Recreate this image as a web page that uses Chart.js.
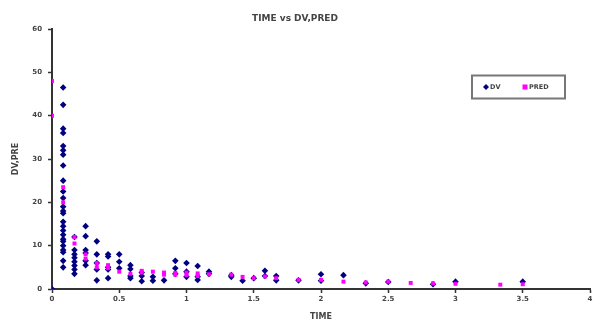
<!DOCTYPE html>
<html>
<head>
<meta charset="utf-8">
<script src="https://cdn.jsdelivr.net/npm/chart.js@4/dist/chart.umd.min.js"></script>
<style>
  html, body { margin: 0; padding: 0; background: #fff; }
  #wrap { width: 595px; height: 322px; position: relative; }
</style>
</head>
<body>
<div id="wrap"><canvas id="c" width="595" height="322"></canvas></div>
<script>
const chartTitle = "TIME vs DV,PRED";
const xTitle = "TIME";
const yTitle = "DV,PRE";
const seriesNames = ["DV", "PRED"];
const xTicks = [0, 0.5, 1, 1.5, 2, 2.5, 3, 3.5, 4];
const yTicks = [0, 10, 20, 30, 40, 50, 60];

const dvTime = [
  0,
  0.083,0.083,0.083,0.083,0.083,0.083,0.083,0.083,0.083,0.083,0.083,0.083,0.083,0.083,0.083,0.083,0.083,0.083,0.083,0.083,0.083,0.083,0.083,0.083,0.083,
  0.167,0.167,0.167,0.167,0.167,0.167,0.167,0.167,
  0.25,0.25,0.25,0.25,0.25,0.25,
  0.333,0.333,0.333,0.333,0.333,
  0.417,0.417,0.417,0.417,0.417,
  0.5,0.5,0.5,
  0.583,0.583,0.583,0.583,
  0.667,0.667,0.667,
  0.75,0.75,
  0.833,
  0.917,0.917,0.917,
  1.0,1.0,1.0,
  1.083,1.083,1.083,
  1.167,1.167,
  1.333,1.333,
  1.417,
  1.5,
  1.583,1.583,
  1.667,1.667,
  1.833,
  2.0,2.0,
  2.167,
  2.333,
  2.5,
  2.833,
  3.0,
  3.5
];
const dvValue = [
  0,
  46.5,42.5,37,36,33,32,31,28.5,25,22.5,21,19,18,17.5,15.5,14.5,13.5,12.5,11.5,11,10,9,8.5,6.5,5,
  12,9,8,7.2,6.3,5.4,4.5,3.5,
  14.5,12.2,9,8.3,6.5,5.5,
  11,8,6,4.5,2,
  8,7.5,5,4.5,2.5,
  8,6.3,4.8,
  5.5,4.6,3,2.5,
  3.8,3,1.8,
  2.8,1.9,
  2,
  6.5,4.8,3.5,
  6,4,2.8,
  5.3,2.8,2.1,
  4,3.5,
  3.2,2.8,
  1.9,
  2.5,
  4.2,3,
  3,2,
  2,
  3.4,1.9,
  3.2,
  1.3,
  1.6,
  1.1,
  1.7,
  1.7
];
const predTime = [
  0,0,
  0.083,0.083,
  0.167,0.167,
  0.25,0.25,
  0.333,0.333,
  0.417,0.417,
  0.5,
  0.583,
  0.667,0.667,
  0.75,
  0.833,0.833,
  0.917,0.917,
  1.0,1.0,
  1.083,1.083,
  1.167,
  1.333,
  1.417,
  1.5,
  1.583,
  1.667,
  1.833,
  2.0,
  2.167,
  2.333,
  2.5,
  2.667,
  2.833,
  3.0,
  3.333,
  3.5
];
const predValue = [
  48,40,
  23.5,20,
  12,10.5,
  8,7,
  6,5,
  5.5,4.8,
  4,
  3.5,
  4.2,3.8,
  4,
  3.8,3.3,
  3.7,3.3,
  3.8,3.2,
  3.6,3.0,
  3.4,
  3.3,
  2.8,
  2.5,
  2.9,
  2.5,
  2.1,
  2.1,
  1.7,
  1.5,
  1.7,
  1.4,
  1.3,
  1.2,
  1.0,
  1.1
];

const dvColor = "#000080";
const predColor = "#ff00ff";
const axisColor = "#333333";
const textColor = "#444444";
const fontFam = "'DejaVu Sans', Verdana, sans-serif";

const dvData = dvTime.map((t, i) => ({ x: t, y: dvValue[i] }));
const predData = predTime.map((t, i) => ({ x: t, y: predValue[i] }));

const legendBox = {
  id: "legendBox",
  afterDraw(chart) {
    const ctx = chart.ctx;
    ctx.save();
    ctx.strokeStyle = "#777777";
    ctx.lineWidth = 2;
    ctx.strokeRect(472, 75.5, 93, 23);
    ctx.font = "bold 6.5px " + fontFam;
    ctx.textBaseline = "middle";
    ctx.fillStyle = dvColor;
    ctx.beginPath();
    ctx.moveTo(486, 84); ctx.lineTo(489, 87); ctx.lineTo(486, 90); ctx.lineTo(483, 87);
    ctx.closePath(); ctx.fill();
    ctx.fillStyle = textColor;
    ctx.fillText(seriesNames[0], 490, 87);
    ctx.fillStyle = predColor;
    ctx.fillRect(522.5, 84.5, 5, 5);
    ctx.fillStyle = textColor;
    ctx.fillText(seriesNames[1], 529, 87);
    ctx.restore();
  }
};

new Chart(document.getElementById("c"), {
  type: "scatter",
  data: {
    datasets: [
      {
        label: seriesNames[0],
        data: dvData,
        backgroundColor: dvColor,
        borderColor: dvColor,
        pointStyle: "rectRot",
        pointRadius: 3.3,
        borderWidth: 0,
        order: 1
      },
      {
        label: seriesNames[1],
        data: predData,
        backgroundColor: predColor,
        borderColor: predColor,
        pointStyle: "rect",
        pointRadius: 2.8,
        borderWidth: 0,
        order: 0
      }
    ]
  },
  options: {
    responsive: false,
    animation: false,
    layout: { padding: { left: 0, right: 5, top: 0, bottom: 0 } },
    plugins: {
      legend: { display: false },
      tooltip: { enabled: false },
      title: {
        display: true,
        text: chartTitle,
        color: textColor,
        font: { family: fontFam, size: 9, weight: "bold" },
        padding: { top: 13, bottom: 5.2 }
      }
    },
    scales: {
      x: {
        type: "linear",
        min: 0,
        max: 4,
        afterBuildTicks(scale) { scale.ticks = xTicks.map(v => ({ value: v })); },
        afterFit(scale) { scale.height = 33; },
        border: { display: true, color: axisColor, width: 2 },
        grid: { drawOnChartArea: false, drawTicks: true, tickLength: 4, color: axisColor, tickWidth: 1.5 },
        ticks: {
          color: textColor,
          padding: 2,
          font: { family: fontFam, size: 7, weight: "bold" },
          maxRotation: 0,
          callback: v => String(v)
        },
        title: {
          display: true,
          text: xTitle,
          color: textColor,
          font: { family: fontFam, size: 8, weight: "bold" },
          padding: { top: 0, bottom: 0 }
        }
      },
      y: {
        type: "linear",
        min: 0,
        max: 60,
        afterBuildTicks(scale) { scale.ticks = yTicks.map(v => ({ value: v })); },
        afterFit(scale) { scale.width = 52; },
        border: { display: true, color: axisColor, width: 2 },
        grid: { drawOnChartArea: false, drawTicks: true, tickLength: 4, color: axisColor, tickWidth: 1.5 },
        ticks: {
          color: textColor,
          padding: 6,
          font: { family: fontFam, size: 7, weight: "bold" }
        },
        title: {
          display: true,
          text: yTitle,
          color: textColor,
          font: { family: fontFam, size: 8, weight: "bold" },
          padding: { top: 11, bottom: 0 }
        }
      }
    }
  },
  plugins: [legendBox]
});
</script>
</body>
</html>
